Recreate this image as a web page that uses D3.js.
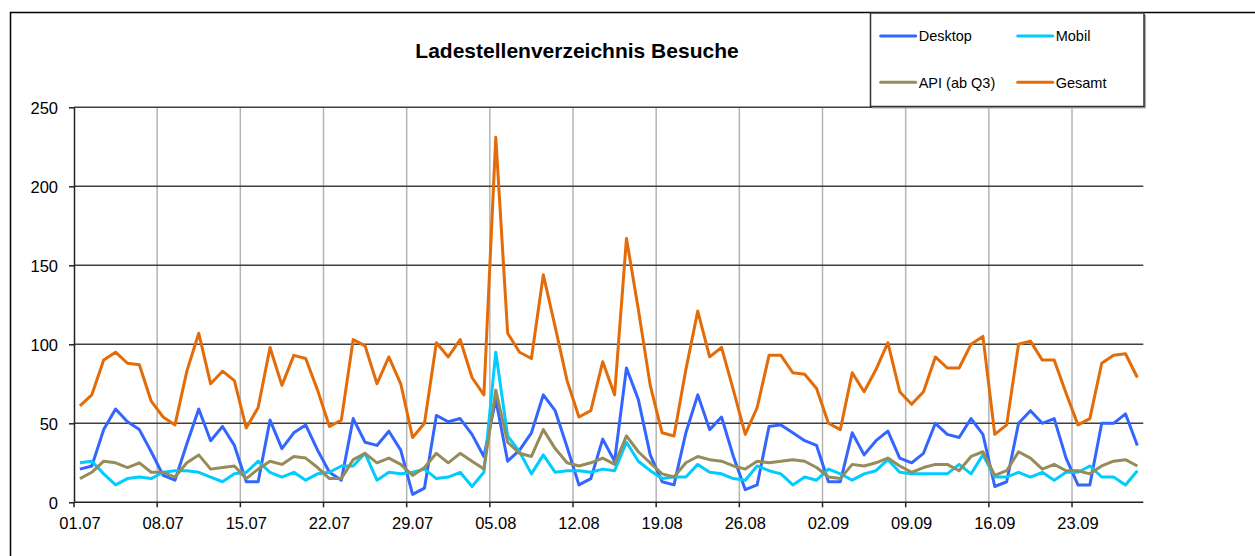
<!DOCTYPE html>
<html lang="de">
<head>
    <meta charset="UTF-8">
    <title>Ladestellenverzeichnis Besuche</title>
    <style>
        body {
            margin: 0;
            background-color: #fff;
            font-family: 'Liberation Sans', Arial, sans-serif;
        }
        svg {
            display: block;
        }
        .grid-h line {
            stroke: #404040;
            stroke-width: 1.5;
        }
        .grid-v line {
            stroke: #b4b4b4;
            stroke-width: 1.5;
        }
        .axis path, .axis line {
            stroke: #222;
            stroke-width: 1.5;
        }
        .axis text {
            font-size: 16.5px;
            fill: #000;
        }
        .series {
            fill: none;
            stroke-width: 3;
            stroke-linejoin: round;
        }
    </style>
    <script src="https://d3js.org/d3.v7.min.js"></script>
</head>
<body>
<div id="chart"></div>
<script>
    // Tage 01.07 - 28.09
    var days = d3.timeDays(new Date(2023, 6, 1), new Date(2023, 8, 29));
    var fmt = d3.timeFormat("%d.%m");
    var dayLabels = days.map(fmt);

    var yTicks = [0, 50, 100, 150, 200, 250];

    // Besuche pro Tag
    var desktop = [21,23,46,59,51,46,32,17,14,37,59,39,48,36,13,13,52,34,44,49,33,19,14,
        53,38,36,45,33,5,9,55,51,53,43,29,65,26,33,44,68,58,35,11,15,40,26,
        85,65,30,13,11,44,68,46,54,29,8,11,48,49,44,39,36,13,13,44,30,39,45,
        28,25,31,50,43,41,53,43,10,13,50,58,50,53,28,11,11,50,50,56,36];
    var mobil = [25,26,18,11,15,16,15,19,20,20,19,16,13,18,19,26,19,16,19,14,18,19,23,
        23,31,14,19,18,19,21,15,16,19,10,19,95,42,32,18,30,19,20,20,19,21,20,
        38,26,20,15,16,16,24,19,18,15,14,23,20,18,11,16,14,21,18,14,18,20,27,
        19,18,18,18,18,24,18,30,16,16,19,16,19,14,19,19,23,16,16,11,20];
    var api = [15,19,26,25,22,25,19,19,16,25,30,21,22,23,15,21,26,24,29,28,22,15,15,
        27,31,25,28,24,17,22,31,25,31,26,21,71,38,31,29,46,34,25,23,25,28,24,
        42,32,25,18,16,25,29,27,26,23,21,26,25,26,27,26,22,16,15,24,23,25,28,
        23,19,22,24,24,20,29,32,17,20,32,28,21,24,20,20,18,23,26,27,23];
    var gesamt = [61,68,90,95,88,87,64,54,49,83,107,75,83,77,47,60,98,74,93,91,71,48,52,
        103,99,75,92,75,41,50,101,92,103,79,68,231,107,95,91,144,111,77,54,58,89,68,
        167,122,74,44,42,84,121,92,98,71,43,60,93,93,82,81,72,50,46,82,70,84,101,
        70,62,70,92,85,85,100,105,43,49,100,102,90,90,69,49,53,88,93,94,79];

    var seriesNames = ["Desktop", "Mobil", "API (ab Q3)", "Gesamt"];
    var seriesColors = ["#3366ff", "#00ccff", "#968c5a", "#e36c09"];
    var seriesValues = [desktop, mobil, api, gesamt];

    var width = 1255, height = 556;
    var plotLeft = 74, plotRight = 1143.3, plotTop = 107.3, plotBottom = 502.3;

    var svg = d3.select("#chart").append("svg")
        .attr("width", width)
        .attr("height", height);

    // Rahmen (rechts und unten abgeschnitten)
    svg.append("rect")
        .attr("x", 10.5).attr("y", 12.5)
        .attr("width", 1400).attr("height", 700)
        .attr("fill", "#fff")
        .attr("stroke", "#000")
        .attr("stroke-width", 1.5);

    var x = d3.scaleBand()
        .domain(dayLabels)
        .range([plotLeft, plotRight])
        .padding(0);
    var bw = x.bandwidth();

    var y = d3.scaleLinear()
        .domain([0, 250])
        .range([plotBottom, plotTop]);

    var weekLabels = dayLabels.filter(function(d, i) { return i % 7 === 0; });

    // vertikale Gitterlinien an den Wochengrenzen
    svg.append("g")
        .attr("class", "grid-v")
        .selectAll("line")
        .data(weekLabels.slice(1))
        .enter()
        .append("line")
        .attr("x1", function(d) { return x(d); })
        .attr("x2", function(d) { return x(d); })
        .attr("y1", y(250))
        .attr("y2", y(0));

    // horizontale Gitterlinien
    svg.append("g")
        .attr("class", "grid-h")
        .selectAll("line")
        .data(yTicks.slice(1))
        .enter()
        .append("line")
        .attr("x1", plotLeft)
        .attr("x2", plotRight)
        .attr("y1", function(d) { return y(d); })
        .attr("y2", function(d) { return y(d); });

    // y-Achse
    var yAxis = svg.append("g")
        .attr("class", "axis")
        .attr("transform", "translate(" + plotLeft + ",0)")
        .call(d3.axisLeft(y).tickValues(yTicks).tickSize(5).tickSizeOuter(0).tickPadding(11));
    yAxis.selectAll("text").attr("dy", "0.36em");

    // x-Achse: Striche an den Grenzen, Beschriftung in der Mitte
    var xAxis = svg.append("g")
        .attr("class", "axis")
        .attr("transform", "translate(0," + plotBottom + ")")
        .call(d3.axisBottom(x).tickValues(weekLabels).tickSize(5).tickSizeOuter(0).tickPadding(10));
    xAxis.selectAll(".tick line")
        .attr("x1", -bw / 2)
        .attr("x2", -bw / 2)
        .attr("stroke", "#555");
    xAxis.select(".domain").attr("d", "M" + plotLeft + ",0H" + plotRight);

    // Linien
    var line = d3.line()
        .x(function(d, i) { return x(dayLabels[i]) + bw / 2; })
        .y(function(d) { return y(d); });

    seriesValues.forEach(function(vals, k) {
        svg.append("path")
            .datum(vals)
            .attr("class", "series")
            .attr("stroke", seriesColors[k])
            .attr("d", line);
    });

    // Titel
    svg.append("text")
        .attr("x", 577)
        .attr("y", 58)
        .attr("text-anchor", "middle")
        .style("font-size", "21px")
        .style("font-weight", "bold")
        .text("Ladestellenverzeichnis Besuche");

    // Legende
    var legend = svg.append("g");
    legend.append("rect")
        .attr("x", 872).attr("y", 15)
        .attr("width", 274).attr("height", 93.5)
        .attr("fill", "#aaa");
    legend.append("rect")
        .attr("x", 870.5).attr("y", 13)
        .attr("width", 273.5).attr("height", 93.5)
        .attr("fill", "#fff")
        .attr("stroke", "#333")
        .attr("stroke-width", 1.5);

    var legendPos = [[880.7, 36], [1017.7, 36], [880.7, 82.3], [1017.7, 82.3]];
    var items = legend.selectAll("g.item")
        .data(seriesNames)
        .enter()
        .append("g")
        .attr("transform", function(d, i) { return "translate(" + legendPos[i][0] + "," + legendPos[i][1] + ")"; });
    items.append("line")
        .attr("x1", 0).attr("x2", 35)
        .attr("stroke", function(d, i) { return seriesColors[i]; })
        .attr("stroke-width", 3)
        .attr("stroke-linecap", "round");
    items.append("text")
        .attr("x", 38)
        .attr("dy", "0.36em")
        .style("font-size", "14.5px")
        .text(function(d) { return d; });
</script>
</body>
</html>
